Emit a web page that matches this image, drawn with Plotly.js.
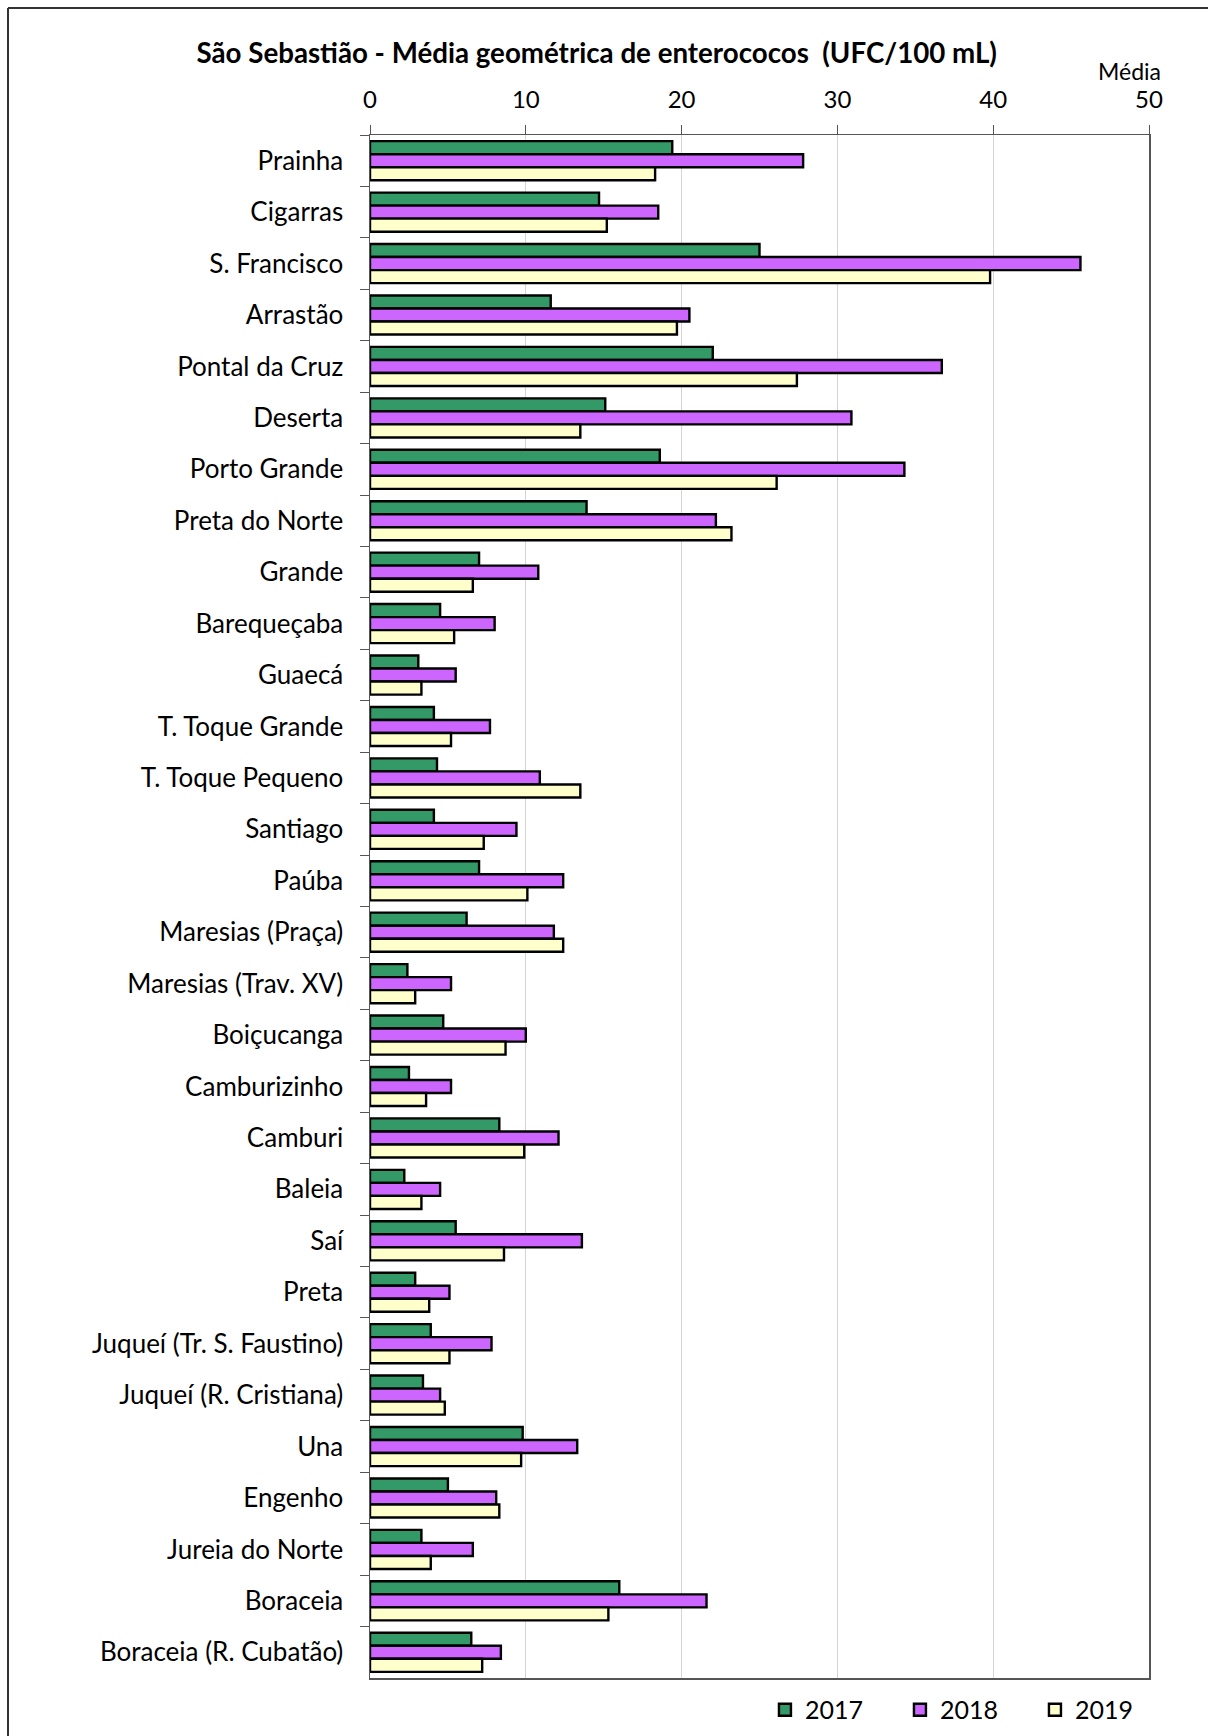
<!DOCTYPE html>
<html>
<head>
<meta charset="utf-8">
<script src="https://cdn.plot.ly/plotly-3.0.1.min.js"></script>
<style>
  html, body { margin: 0; padding: 0; background: #ffffff; }
  #chart { width: 1208px; height: 1736px; }
</style>
</head>
<body>
<div id="chart"></div>
<script>
const categories = [
  "Prainha", "Cigarras", "S. Francisco", "Arrastão", "Pontal da Cruz", "Deserta",
  "Porto Grande", "Preta do Norte", "Grande", "Barequeçaba", "Guaecá",
  "T. Toque Grande", "T. Toque Pequeno", "Santiago", "Paúba", "Maresias (Praça)",
  "Maresias (Trav. XV)", "Boiçucanga", "Camburizinho", "Camburi", "Baleia", "Saí",
  "Preta", "Juqueí (Tr. S. Faustino)", "Juqueí (R. Cristiana)", "Una", "Engenho",
  "Jureia do Norte", "Boraceia", "Boraceia (R. Cubatão)"
];

const values2017 = [19.4, 14.7, 25.0, 11.6, 22.0, 15.1, 18.6, 13.9, 7.0, 4.5, 3.1,
  4.1, 4.3, 4.1, 7.0, 6.2, 2.4, 4.7, 2.5, 8.3, 2.2, 5.5, 2.9, 3.9, 3.4, 9.8, 5.0,
  3.3, 16.0, 6.5];
const values2018 = [27.8, 18.5, 45.6, 20.5, 36.7, 30.9, 34.3, 22.2, 10.8, 8.0, 5.5,
  7.7, 10.9, 9.4, 12.4, 11.8, 5.2, 10.0, 5.2, 12.1, 4.5, 13.6, 5.1, 7.8, 4.5, 13.3,
  8.1, 6.6, 21.6, 8.4];
const values2019 = [18.3, 15.2, 39.8, 19.7, 27.4, 13.5, 26.1, 23.2, 6.6, 5.4, 3.3,
  5.2, 13.5, 7.3, 10.1, 12.4, 2.9, 8.7, 3.6, 9.9, 3.3, 8.6, 3.8, 5.1, 4.8, 9.7,
  8.3, 3.9, 15.3, 7.2];

const seriesNames = ["2017", "2018", "2019"];
const seriesColors = ["#339966", "#CC66FF", "#FFFFCC"];
const seriesValues = [values2017, values2018, values2019];

const xTickVals = [0, 10, 20, 30, 40, 50];
const xTickText = ["0", "10", "20", "30", "40", "50"];

const FONT = "Lato, 'Open Sans', sans-serif";

const traces = seriesNames.map(function (name, i) {
  return {
    type: "bar",
    orientation: "h",
    name: name,
    y: categories,
    x: seriesValues[i],
    marker: { color: seriesColors[i], line: { color: "#000000", width: 2.4 } },
    hoverinfo: "x+y+name"
  };
});

const layout = {
  width: 1208,
  height: 1736,
  paper_bgcolor: "#ffffff",
  plot_bgcolor: "#ffffff",
  margin: { l: 370, r: 59, t: 135, b: 58, pad: 0, autoexpand: false },
  font: { family: FONT, size: 24, color: "#000000" },
  title: {
    text: "<b>São Sebastião - Média geométrica de enterococos  (UFC/100 mL)</b>",
    font: { family: FONT, size: 27.7, color: "#000000" },
    x: 0.494, xanchor: "center", xref: "container",
    y: 1 - 53 / 1736, yanchor: "middle", yref: "container"
  },
  barmode: "group",
  bargap: 0.24,
  bargroupgap: 0,
  showlegend: true,
  legend: {
    orientation: "h",
    x: 0.507, xanchor: "left",
    y: -0.0207, yanchor: "middle",
    font: { family: FONT, size: 25, color: "#000000" },
    traceorder: "normal",
    entrywidth: 90,
    bgcolor: "rgba(0,0,0,0)"
  },
  xaxis: {
    side: "top",
    range: [0, 50],
    tickvals: xTickVals,
    ticktext: xTickText,
    ticks: "outside",
    ticklen: 9,
    tickcolor: "#555555",
    ticklabelstandoff: 7,
    tickfont: { family: FONT, size: 24, color: "#000000" },
    showgrid: true,
    gridcolor: "#d4d4d4",
    gridwidth: 1,
    showline: true,
    linecolor: "#555555",
    linewidth: 1.5,
    mirror: true,
    zeroline: false,
    fixedrange: true
  },
  yaxis: {
    type: "category",
    autorange: "reversed",
    ticks: "outside",
    tickson: "boundaries",
    ticklen: 9,
    tickcolor: "#555555",
    ticklabelstandoff: 20,
    tickfont: { family: FONT, size: 26, color: "#000000" },
    showgrid: false,
    showline: true,
    linecolor: "#555555",
    linewidth: 1.5,
    mirror: true,
    fixedrange: true
  },
  annotations: [{
    text: "Média",
    xref: "paper", yref: "paper",
    x: (1129 - 370) / 779, y: 1 + (135 - 71) / 1543,
    xanchor: "center", yanchor: "middle",
    showarrow: false,
    font: { family: FONT, size: 23, color: "#000000" }
  }],
  shapes: [
    {
      type: "line",
      xref: "paper", yref: "paper",
      x0: (8 - 370) / 779, x1: 1.4,
      y0: 1 + (135 - 8) / 1543, y1: 1 + (135 - 8) / 1543,
      line: { color: "#333333", width: 2 },
      layer: "below"
    },
    {
      type: "line",
      xref: "paper", yref: "paper",
      x0: (8 - 370) / 779, x1: (8 - 370) / 779,
      y0: -0.2, y1: 1 + (135 - 8) / 1543,
      line: { color: "#333333", width: 2 },
      layer: "below"
    }
  ]
};

Plotly.newPlot("chart", traces, layout, { displayModeBar: false, staticPlot: true });
</script>
</body>
</html>
